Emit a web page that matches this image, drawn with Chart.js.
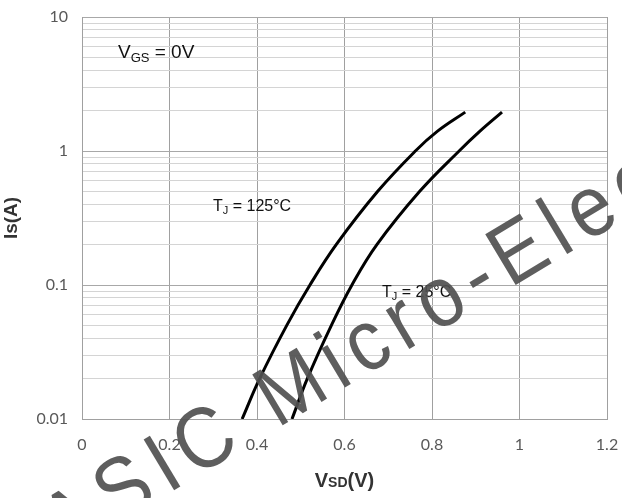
<!DOCTYPE html>
<html>
<head>
<meta charset="utf-8">
<script src="https://cdn.jsdelivr.net/npm/chart.js@4/dist/chart.umd.min.js"></script>
<style>
  html, body { margin: 0; padding: 0; background: #fff; }
  #wrap { width: 622px; height: 498px; }
</style>
</head>
<body>
<div id="wrap"><canvas id="chart"></canvas></div>
<script>
// Source-drain diode forward characteristic, Is vs Vsd
const vsd125 = [0.366, 0.406, 0.468, 0.521, 0.581, 0.676, 0.762, 0.812, 0.876];
const is125  = [0.01, 0.02, 0.05, 0.1, 0.2, 0.5, 1, 1.4, 1.95];
const vsd25  = [0.480, 0.515, 0.570, 0.617, 0.674, 0.772, 0.862, 0.909, 0.960];
const is25   = [0.01, 0.02, 0.05, 0.1, 0.2, 0.5, 1, 1.4, 1.95];

const xTicks = [0, 0.2, 0.4, 0.6, 0.8, 1, 1.2];
const yMajor = [0.01, 0.1, 1, 10];
const yLabels = ["0.01", "0.1", "1", "10"];

// log grid: 1..9 in each decade
const yGrid = [];
for (let d = 0; d < yMajor.length - 1; d++) {
  for (let k = 1; k < 10; k++) yGrid.push(+(yMajor[d] * k).toPrecision(3));
}
yGrid.push(yMajor[yMajor.length - 1]);

function pts(xs, ys) {
  return xs.map((x, i) => ({ x: x, y: ys[i] }));
}

const textFont = '"Liberation Sans", Arial, sans-serif';
const tickFont = { family: "Lato, 'Open Sans', sans-serif", size: 16 };

// text with a subscript part, drawn left to right
function drawSub(ctx, x, y, parts) {
  parts.forEach(p => {
    ctx.font = (p.bold ? "bold " : "") + p.size + "px " + textFont;
    ctx.fillText(p.t, x, y + (p.dy || 0));
    x += ctx.measureText(p.t).width;
  });
  return x;
}

const labelsPlugin = {
  id: "labels",
  afterDatasetsDraw(chart) {
    const ctx = chart.ctx;
    ctx.save();
    ctx.fillStyle = "#111";
    ctx.textBaseline = "alphabetic";
    ctx.textAlign = "left";
    drawSub(ctx, 118, 58, [
      { t: "V", size: 19 }, { t: "GS", size: 13, dy: 4 }, { t: " = 0V", size: 19 }
    ]);
    drawSub(ctx, 213, 211, [
      { t: "T", size: 16 }, { t: "J", size: 11, dy: 3 }, { t: " = 125°C", size: 16 }
    ]);
    drawSub(ctx, 382, 297, [
      { t: "T", size: 16 }, { t: "J", size: 11, dy: 3 }, { t: " = 25°C", size: 16 }
    ]);

    // x axis title with small SD
    ctx.fillStyle = "#333";
    const parts = [
      { t: "V", size: 20, bold: true }, { t: "SD", size: 14, bold: true },
      { t: "(V)", size: 20, bold: true }
    ];
    let w = 0;
    parts.forEach(p => {
      ctx.font = "bold " + p.size + "px " + textFont;
      w += ctx.measureText(p.t).width;
    });
    const a = chart.chartArea;
    drawSub(ctx, (a.left + a.right) / 2 - w / 2, 487, parts);
    ctx.restore();
  },
  afterDraw(chart) {
    // watermark: condensed glyphs spaced out along a slanted baseline
    const ctx = chart.ctx;
    const txt = "ASIC Micro-Electronics";
    const squeeze = 0.9;
    const gap = 9.5;
    ctx.save();
    ctx.font = "86px 'Liberation Sans', sans-serif";
    ctx.fillStyle = "rgba(80,80,80,0.92)";
    ctx.textBaseline = "alphabetic";
    ctx.translate(168, 494);
    ctx.rotate(-31 * Math.PI / 180);
    const adv = ch => ctx.measureText(ch).width * squeeze + gap;
    let x = -(adv("A") + adv("S"));
    for (const ch of txt) {
      ctx.save();
      ctx.translate(x, 0);
      ctx.scale(squeeze, 1);
      ctx.fillText(ch, 0, 0);
      ctx.restore();
      x += adv(ch);
    }
    ctx.restore();
  }
};

new Chart(document.getElementById("chart"), {
  type: "line",
  data: {
    datasets: [
      {
        label: "TJ = 125°C",
        data: pts(vsd125, is125),
        borderColor: "#000",
        borderWidth: 3,
        pointRadius: 0,
        tension: 0.4
      },
      {
        label: "TJ = 25°C",
        data: pts(vsd25, is25),
        borderColor: "#000",
        borderWidth: 3,
        pointRadius: 0,
        tension: 0.4
      }
    ]
  },
  options: {
    responsive: true,
    maintainAspectRatio: false,
    animation: false,
    layout: { padding: { top: 17, right: 15, left: 0, bottom: 0 } },
    plugins: {
      legend: { display: false },
      tooltip: { enabled: false }
    },
    scales: {
      x: {
        type: "linear",
        min: 0,
        max: 1.2,
        afterBuildTicks: s => { s.ticks = xTicks.map(v => ({ value: v })); },
        afterFit: s => { s.height = 79; s.paddingLeft = 0; s.paddingRight = 0; },
        ticks: {
          padding: 16,
          color: "#595959",
          font: tickFont,
          callback: v => String(+v.toFixed(1))
        },
        grid: { color: "#a0a0a0", drawTicks: false },
        border: { color: "#a0a0a0" }
      },
      y: {
        type: "logarithmic",
        min: 0.01,
        max: 10,
        afterBuildTicks: s => { s.ticks = yGrid.map(v => ({ value: v })); },
        afterFit: s => { s.width = 82; s.paddingTop = 0; s.paddingBottom = 0; },
        title: {
          display: true,
          text: "Is(A)",
          color: "#333",
          font: { family: textFont, size: 19, weight: "bold" },
          padding: { top: 0, bottom: 4 }
        },
        ticks: {
          padding: 14,
          color: "#595959",
          autoSkip: false,
          font: tickFont,
          callback: v => {
            const i = yMajor.indexOf(v);
            return i >= 0 ? yLabels[i] : "";
          }
        },
        grid: {
          drawTicks: false,
          color: c => (yMajor.indexOf(c.tick.value) >= 0 ? "#a8a8a8" : "#d4d4d4")
        },
        border: { color: "#a0a0a0" }
      }
    }
  },
  plugins: [labelsPlugin]
});
</script>
</body>
</html>
